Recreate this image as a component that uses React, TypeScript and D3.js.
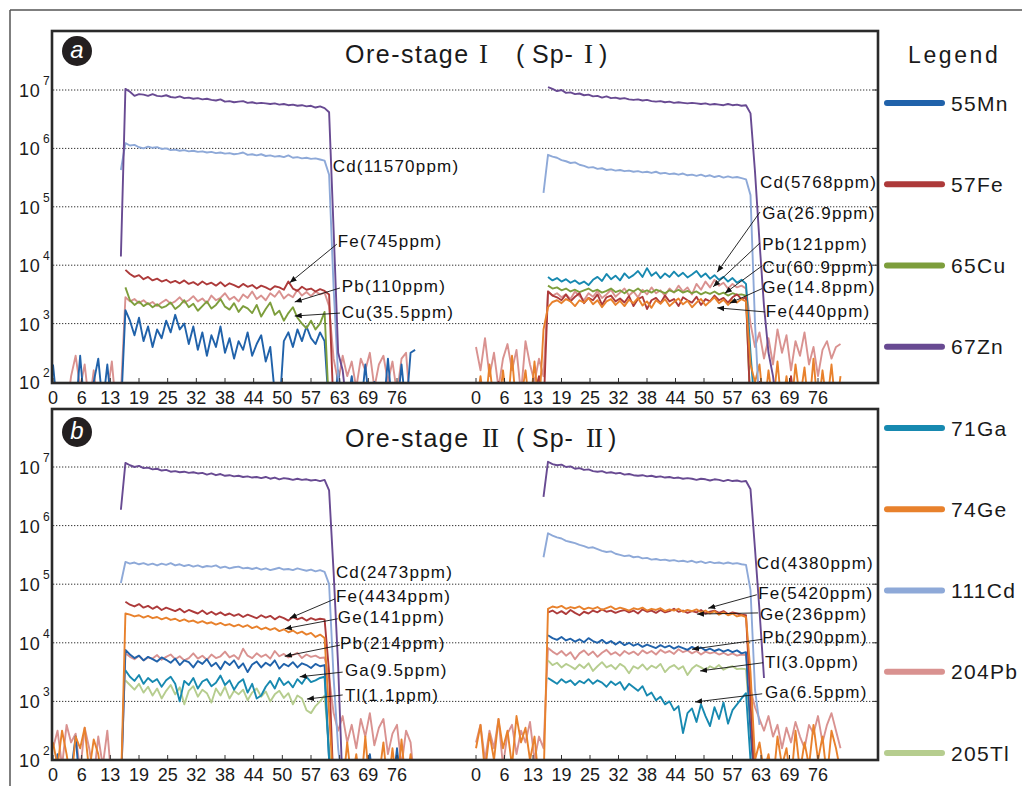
import React from "react";
import * as d3 from "d3";

// legend order and colours
const ELEMENTS = ["55Mn", "57Fe", "65Cu", "67Zn", "71Ga", "74Ge", "111Cd", "204Pb", "205Tl"];
const COLORS: Record<string, string> = {
  Mn: "#2062aa",
  Fe: "#ad3a3a",
  Cu: "#7d9e3c",
  Zn: "#684a92",
  Ga: "#1789b0",
  Ge: "#e8812c",
  Cd: "#8ea9d8",
  Pb: "#d99290",
  Tl: "#b6cd8f",
};
const DRAW_ORDER = ["Pb", "Tl", "Mn", "Ga", "Cu", "Fe", "Ge", "Cd", "Zn"];

const X_TICKS = ["0", "6", "13", "19", "25", "32", "38", "44", "50", "57", "63", "69", "76"];
const X_MAX = 76;
const Y_EXP = [2, 3, 4, 5, 6, 7];

// ---- signals, log10(cps), one value per time step, first value at `start` ----
// panel a, left spot
const AL_MN = [
  2.3, 1.5, 1.5, 1.7, 1.5, 1.5, 2.45, 1.5, 1.5, 2.0,
  2.4, 1.6, 2.3, 1.5, 1.5, 1.5, 3.23, 3.05, 2.8, 3.1,
  2.7, 2.95, 2.6, 2.9, 2.75, 3.05, 2.85, 3.15, 2.9, 3.0,
  2.65, 2.95, 2.55, 2.85, 2.45, 2.8, 2.6, 2.95, 2.5, 2.75,
  2.4, 2.7, 2.55, 2.85, 2.45, 2.65, 2.8, 2.35, 2.6, 1.8,
  1.5, 2.7, 2.85, 2.6, 2.9, 2.7, 2.95, 2.75, 2.65, 2.85,
  2.7, 1.5, 1.5, 2.2, 1.5, 1.6, 2.1, 1.5, 1.5, 2.3,
  1.5, 2.0, 1.5, 1.5, 2.4, 1.5, 1.5, 2.3, 1.5, 2.5, 2.55,
];
const AL_FE = [
  3.92, 3.85, 3.8, 3.83, 3.76, 3.8, 3.74, 3.77, 3.72, 3.75,
  3.7, 3.73, 3.69, 3.74, 3.68, 3.71, 3.66, 3.72, 3.67, 3.7,
  3.65, 3.71, 3.64, 3.69, 3.66, 3.62, 3.68, 3.63, 3.66, 3.6,
  3.65, 3.62, 3.58, 3.64, 3.62, 3.58, 3.72, 3.6, 3.56, 3.63,
  3.58, 3.6, 3.55, 3.59, 3.56, 3.5, 1.5,
];
const AL_CU = [
  3.62, 3.4, 3.32, 3.38, 3.3, 3.35, 3.28, 3.33, 3.27, 3.3,
  3.36, 3.25, 3.31, 3.4, 3.28, 3.34, 3.22, 3.3, 3.38, 3.26,
  3.32, 3.42, 3.29, 3.24, 3.35, 3.2, 3.3, 3.26, 3.18, 3.32,
  3.12, 3.25, 3.36, 3.15, 3.22, 3.05, 3.18, 3.28, 3.1, 3.0,
  2.92, 3.05, 2.9, 3.0, 3.2, 1.5,
];
const AL_ZN = [
  4.15, 7.02, 6.97, 6.9, 6.93, 6.92, 6.9, 6.93, 6.9, 6.89,
  6.91, 6.88, 6.87, 6.89, 6.86, 6.87, 6.85, 6.86, 6.84, 6.85,
  6.83, 6.82, 6.84, 6.8, 6.81, 6.79, 6.8, 6.81, 6.78, 6.79,
  6.77, 6.78, 6.77, 6.76, 6.77, 6.75, 6.76, 6.74, 6.75, 6.73,
  6.74, 6.72, 6.73, 6.7, 6.72, 6.69, 6.62, 4.6, 2.5, 2.2, 1.5,
];
const AL_CD = [
  5.63, 6.09, 6.05, 6.06, 6.02, 6.0, 6.03, 6.01, 6.02, 5.99,
  6.0, 5.97, 5.98, 5.96, 5.97, 5.95, 5.96, 5.94, 5.95, 5.93,
  5.94, 5.92, 5.93, 5.91, 5.92, 5.9, 5.91, 5.93, 5.89, 5.9,
  5.88, 5.9, 5.87, 5.88, 5.86, 5.87, 5.85, 5.88, 5.84, 5.85,
  5.83, 5.84, 5.82, 5.83, 5.81, 5.79, 5.55, 3.6, 2.1, 1.5,
];
const AL_PB = [
  1.5, 1.5, 1.8, 1.5, 2.1, 2.45, 1.9, 2.3, 1.6, 2.2,
  1.5, 1.5, 1.8, 2.35, 1.5, 1.8, 3.45, 3.38, 3.42, 3.35,
  3.4, 3.33, 3.37, 3.3, 3.36, 3.41, 3.34, 3.38, 3.45, 3.36,
  3.4, 3.47, 3.38, 3.43, 3.35, 3.48, 3.4, 3.44, 3.52, 3.41,
  3.46, 3.38, 3.5, 3.44, 3.55, 3.42, 3.48, 3.4, 3.52, 3.46,
  3.56, 3.43, 3.5, 3.45, 3.58, 3.48, 3.54, 3.47, 3.55, 3.5,
  3.53, 3.3, 2.4, 2.0, 2.45, 2.1, 2.35, 1.9, 2.4, 2.2,
  2.5, 1.9, 2.3, 2.45, 2.0, 2.35, 1.8, 2.4, 2.5, 1.5, 1.5,
];

// panel a, right spot
const AR_ZN = [
  7.05, 7.02, 6.98, 7.0, 6.95, 6.96, 6.93, 6.94, 6.91, 6.92,
  6.89, 6.9, 6.87, 6.89, 6.86, 6.87, 6.85, 6.86, 6.84, 6.83,
  6.84, 6.82, 6.83, 6.81, 6.8, 6.81, 6.79, 6.8, 6.78, 6.79,
  6.78, 6.77, 6.78, 6.77, 6.76, 6.77, 6.75, 6.76, 6.75, 6.74,
  6.76, 6.74, 6.75, 6.73, 6.74, 6.6, 5.6, 4.4, 3.3, 2.5, 2.1, 1.5,
];
const AR_CD = [
  5.24, 5.89, 5.86, 5.84, 5.8, 5.78, 5.75, 5.76, 5.72, 5.7,
  5.67, 5.68, 5.65, 5.66, 5.63, 5.64, 5.62, 5.63, 5.61, 5.62,
  5.6, 5.61, 5.59, 5.6, 5.58, 5.6, 5.57, 5.58, 5.56, 5.57,
  5.55, 5.57, 5.54, 5.55, 5.53, 5.55, 5.52, 5.54, 5.51, 5.53,
  5.5, 5.52, 5.5, 5.51, 5.49, 5.47, 5.2, 3.0, 1.5,
];
const AR_GA = [
  3.8, 3.74, 3.78, 3.72, 3.76, 3.7, 3.74, 3.68, 3.72, 3.66,
  3.75, 3.8, 3.73, 3.85, 3.76, 3.82, 3.74, 3.86, 3.78, 3.83,
  3.9, 3.8, 3.95, 3.82, 3.88, 3.78, 3.86, 3.8, 3.89, 3.81,
  3.87, 3.79, 3.84, 3.9, 3.8, 3.86, 3.77, 3.83, 3.75, 3.8,
  3.72, 3.78, 3.7, 3.75, 3.68, 2.5, 1.5,
];
const AR_PB = [
  2.6, 2.2, 2.75, 2.1, 2.5, 1.9, 2.4, 2.65, 2.2, 2.55,
  1.8, 2.7, 2.3, 2.0, 2.4, 2.1, 3.55, 3.48, 3.52, 3.45,
  3.5, 3.42, 3.55, 3.47, 3.4, 3.52, 3.46, 3.56, 3.44, 3.5,
  3.58, 3.46, 3.53, 3.6, 3.48, 3.55, 3.45, 3.58, 3.5, 3.62,
  3.52, 3.57, 3.48, 3.6, 3.53, 3.65, 3.55, 3.62, 3.5, 3.68,
  3.58, 3.72, 3.62, 3.75, 3.65, 3.7, 3.6, 3.68, 3.62, 3.65,
  3.6, 3.0, 2.6, 2.85, 2.4, 2.75, 2.3, 2.9, 2.5, 2.8,
  2.2, 2.7, 2.45, 2.85, 2.3, 2.6, 2.1, 2.55, 2.7, 2.4, 2.6, 2.65,
];
const AR_CU = [
  3.65, 3.6, 3.62, 3.57, 3.6, 3.55, 3.58, 3.54, 3.57, 3.6,
  3.55, 3.58, 3.53, 3.56, 3.6, 3.54, 3.57, 3.52, 3.58, 3.55,
  3.6, 3.54, 3.57, 3.53, 3.58, 3.55, 3.52, 3.57, 3.54, 3.58,
  3.53, 3.56, 3.52, 3.55, 3.5, 3.54, 3.51, 3.55, 3.5, 3.53,
  3.48, 3.52, 3.49, 3.5, 3.48, 1.5,
];
const AR_GE = [
  1.5, 2.1, 1.5, 2.3, 1.6, 1.5, 2.2, 1.5, 2.45, 1.5,
  1.7, 2.2, 1.5, 2.35, 1.5, 2.9, 3.28, 3.37, 3.4, 3.35,
  3.42, 3.38, 3.3, 3.4, 3.36, 3.44, 3.33, 3.4, 3.28, 3.38,
  3.42, 3.32, 3.39, 3.3, 3.41, 3.35, 3.44, 3.31, 3.38, 3.27,
  3.4, 3.34, 3.42, 3.3, 3.37, 3.43, 3.33, 3.39, 3.28, 3.36,
  3.42, 3.31, 3.38, 3.45, 3.35, 3.41, 3.32, 3.4, 3.36, 3.42,
  3.38, 2.3, 2.0, 2.3, 1.5, 2.2, 1.6, 2.35, 1.5, 2.1,
  1.5, 2.3, 1.7, 2.25, 1.5, 2.4, 1.5, 2.2, 1.6, 2.3, 1.5, 2.1,
];
const AR_FE = [
  1.5, 1.5, 1.8, 1.5, 1.5, 2.0, 1.5, 1.5, 1.5, 1.9,
  1.5, 1.5, 1.5, 1.8, 2.1, 1.5, 3.55, 3.48, 3.45, 3.4,
  3.5, 3.38, 3.46, 3.52, 3.35, 3.44, 3.4, 3.5, 3.32, 3.45,
  3.48, 3.38, 3.43, 3.36, 3.47, 3.3, 3.42, 3.46, 3.25, 3.4,
  3.44, 3.35, 3.48, 3.38, 3.42, 3.3, 3.45, 3.4, 3.36, 3.46,
  3.32, 3.42, 3.38, 3.48, 3.4, 3.44, 3.36, 3.45, 3.5, 3.42,
  3.45, 1.5, 1.5, 2.0, 1.5, 1.5, 1.8, 1.5, 1.5, 1.5,
  2.1, 1.5, 1.5, 1.5, 1.5, 1.9, 1.5, 1.5, 1.5, 1.5, 1.5, 1.5,
];

// panel b, left spot
const BL_ZN = [
  6.27, 7.07, 7.03, 7.0, 7.02, 6.98, 6.99, 6.96, 6.97, 6.94,
  6.95, 6.92, 6.93, 6.91, 6.92, 6.9, 6.91, 6.89, 6.9, 6.87,
  6.89, 6.86, 6.88, 6.85, 6.86, 6.84, 6.85, 6.83, 6.84, 6.82,
  6.83, 6.81, 6.83, 6.8, 6.82, 6.79, 6.81, 6.8, 6.78, 6.8,
  6.78, 6.79, 6.77, 6.78, 6.76, 6.78, 6.6, 5.2, 3.6, 1.5,
];
const BL_CD = [
  5.02, 5.38, 5.35, 5.37, 5.34, 5.36, 5.33, 5.35, 5.32, 5.35,
  5.33, 5.36, 5.32, 5.34, 5.31, 5.33, 5.3, 5.32, 5.29, 5.31,
  5.3, 5.32, 5.28, 5.3, 5.27, 5.29, 5.3, 5.27, 5.28, 5.26,
  5.28, 5.25, 5.27, 5.24, 5.26, 5.28, 5.25, 5.26, 5.24, 5.27,
  5.25, 5.23, 5.25, 5.22, 5.24, 5.21, 5.0, 3.4, 2.2, 1.5,
];
const BL_FE = [
  4.7, 4.65, 4.62, 4.66, 4.6, 4.63, 4.58, 4.62, 4.56, 4.6,
  4.57, 4.54, 4.58, 4.52, 4.56, 4.53, 4.5, 4.55, 4.49, 4.53,
  4.48, 4.52, 4.47, 4.5, 4.46, 4.49, 4.44, 4.48, 4.45, 4.42,
  4.47, 4.43, 4.46, 4.4, 4.45, 4.42, 4.38, 4.44, 4.4, 4.43,
  4.38, 4.42, 4.39, 4.41, 4.4, 3.5, 1.5,
];
const BL_GE = [
  2.3, 1.9, 2.5, 2.1, 1.6, 2.4, 2.2, 2.55, 1.8, 2.35,
  2.1, 1.5, 2.0, 1.5, 1.5, 1.5, 4.5, 4.48, 4.45, 4.47,
  4.43, 4.46, 4.42, 4.44, 4.4, 4.43, 4.39, 4.41, 4.37, 4.4,
  4.36, 4.38, 4.34, 4.37, 4.33, 4.35, 4.31, 4.34, 4.3, 4.32,
  4.28, 4.31, 4.27, 4.3, 4.25, 4.28, 4.23, 4.26, 4.22, 4.25,
  4.2, 4.23, 4.18, 4.21, 4.16, 4.19, 4.14, 4.17, 4.1, 4.14,
  4.08, 2.8, 1.5, 2.0, 1.5, 2.3, 1.6, 2.1, 1.5, 2.4,
  1.5, 2.0, 1.7, 2.3, 1.5, 2.2, 1.5, 2.35, 1.5, 2.1, 1.5, 1.5,
];
const BL_PB = [
  2.2, 2.5, 1.9, 2.6, 2.3, 2.45, 1.8, 2.55, 2.2, 1.7,
  2.4, 1.9, 2.5, 1.6, 1.5, 1.5, 3.82, 3.76, 3.72, 3.78,
  3.7, 3.75, 3.73, 3.79, 3.71, 3.76, 3.8, 3.72, 3.77, 3.7,
  3.74, 3.82, 3.73, 3.78, 3.71, 3.8, 3.74, 3.77, 3.85, 3.75,
  3.79, 3.72, 3.9, 3.78, 3.74, 3.82, 3.76, 3.8, 3.73, 3.86,
  3.77, 3.81, 3.75, 3.79, 3.83, 3.74, 3.8, 3.76, 3.78, 3.74,
  3.75, 3.4, 2.8, 2.5, 2.75, 2.3, 2.6, 2.2, 2.7, 2.4,
  2.8, 2.25, 2.55, 2.7, 2.1, 2.45, 2.6, 1.9, 2.5, 2.3, 1.5, 1.5,
];
const BL_MN = [
  1.5, 2.1, 1.5, 1.5, 1.8, 2.4, 1.5, 1.5, 2.0, 1.5,
  1.5, 1.7, 1.5, 1.5, 1.5, 1.5, 3.88, 3.8, 3.74, 3.78,
  3.7, 3.76, 3.72, 3.68, 3.75, 3.71, 3.66, 3.73, 3.62, 3.7,
  3.67, 3.58, 3.69, 3.64, 3.72, 3.6, 3.66, 3.55, 3.68, 3.62,
  3.7, 3.57, 3.65, 3.5, 3.63, 3.68, 3.58, 3.66, 3.61, 3.7,
  3.56, 3.64, 3.6, 3.67, 3.58, 3.65, 3.62, 3.57, 3.64, 3.6,
  3.62, 2.0, 1.5, 1.5, 2.0, 1.5, 1.5, 1.8, 1.5, 1.5,
  2.1, 1.5, 1.5, 1.9, 1.5, 1.5, 2.2, 1.5, 1.5, 2.0, 1.5, 1.5,
];
const BL_GA = [
  3.53, 3.42, 3.35, 3.45, 3.3, 3.4, 3.33, 3.38, 3.25, 3.36,
  3.42, 3.3, 3.0, 3.35, 3.28, 3.4, 3.22, 3.34, 3.38, 3.26,
  3.32, 3.44, 3.28, 3.36, 3.2, 3.32, 3.38, 3.15, 3.3, 3.05,
  3.1, 3.25, 3.35, 3.22, 3.4, 3.28, 3.34, 3.24, 3.38, 3.3,
  3.42, 3.33, 3.36, 3.4, 3.42, 2.0, 1.5,
];
const BL_TL = [
  3.36, 3.28, 3.2, 3.3, 3.15, 3.25, 3.1, 3.22, 3.05, 3.18,
  3.28, 3.12, 3.24, 2.95, 3.18, 3.26, 3.08, 3.2, 3.14, 2.98,
  3.22, 3.1, 3.25, 3.05, 3.18, 3.12, 3.2, 3.02, 3.15, 3.22,
  3.08, 3.17, 3.0, 3.12, 3.18, 3.06, 3.14, 2.95, 3.1, 3.05,
  2.85, 2.8, 2.92, 3.0, 3.1, 2.2, 1.5,
];

// panel b, right spot
const BR_ZN = [
  6.49, 7.09, 7.05, 7.03, 7.04, 7.0, 7.01, 6.97, 6.98, 6.95,
  6.96, 6.93, 6.92, 6.93, 6.9, 6.91, 6.89, 6.9, 6.87, 6.88,
  6.86, 6.85, 6.86, 6.84, 6.85, 6.83, 6.84, 6.82, 6.83, 6.81,
  6.82, 6.8, 6.81, 6.8, 6.78, 6.8, 6.79, 6.77, 6.79, 6.78,
  6.76, 6.78, 6.76, 6.77, 6.75, 6.76, 6.62, 5.6, 4.55, 3.4,
];
const BR_CD = [
  5.46, 5.87, 5.83, 5.8, 5.78, 5.74, 5.72, 5.7, 5.67, 5.65,
  5.62, 5.63, 5.6, 5.57, 5.55, 5.56, 5.52, 5.5, 5.48, 5.49,
  5.46, 5.47, 5.44, 5.45, 5.42, 5.43, 5.41, 5.42, 5.4, 5.41,
  5.39, 5.4, 5.38, 5.4, 5.37, 5.39, 5.36, 5.38, 5.36, 5.37,
  5.35, 5.37, 5.35, 5.36, 5.34, 5.33, 4.9, 3.2, 2.6,
];
const BR_FE = [
  4.52, 4.55, 4.5, 4.54, 4.49, 4.56, 4.51, 4.47, 4.53, 4.5,
  4.55, 4.52, 4.57, 4.53, 4.55, 4.51, 4.54, 4.56, 4.52, 4.55,
  4.5, 4.57, 4.53, 4.55, 4.51, 4.56, 4.52, 4.54, 4.58, 4.53,
  4.55, 4.51, 4.54, 4.52, 4.56, 4.5, 4.53, 4.55, 4.51, 4.54,
  4.49, 4.52, 4.5, 4.48, 4.47, 3.0, 1.5,
];
const BR_GE = [
  2.2, 2.6, 1.8, 2.45, 2.0, 2.7, 2.2, 2.5, 1.9, 2.75,
  2.3, 2.55, 2.0, 2.4, 1.6, 1.6, 4.58, 4.62, 4.6, 4.63,
  4.58, 4.61, 4.59, 4.62, 4.57, 4.6, 4.58, 4.61, 4.56, 4.59,
  4.62, 4.57, 4.6, 4.58, 4.55, 4.59, 4.57, 4.6, 4.55, 4.58,
  4.56, 4.59, 4.54, 4.57, 4.55, 4.58, 4.53, 4.56, 4.54, 4.57,
  4.52, 4.55, 4.5, 4.54, 4.48, 4.52, 4.47, 4.5, 4.45, 4.47,
  4.44, 3.5, 2.0, 2.3, 1.8, 2.1, 1.6, 2.4, 1.9, 2.2,
  1.6, 2.5, 1.8, 2.3, 1.9, 2.6, 2.0, 2.4, 1.7, 2.5, 2.2, 1.8,
];
const BR_MN = [
  4.13, 4.08, 4.05, 4.1, 4.04, 4.07, 4.02, 4.06, 4.01, 4.08,
  4.03, 4.0, 4.05, 3.99, 4.03, 3.97, 4.02, 3.96, 4.0, 3.95,
  3.98, 3.93, 3.97, 3.94, 3.91, 3.96, 3.92, 3.95, 3.9, 3.94,
  3.91, 3.88, 3.93, 3.89, 3.92, 3.87, 3.9, 3.86, 3.89, 3.85,
  3.88, 3.84, 3.87, 3.82, 3.84, 2.5, 1.5,
];
const BR_PB = [
  2.3, 2.6, 2.0, 2.5, 2.2, 2.7, 1.9, 2.45, 2.6, 2.1,
  2.5, 2.3, 2.65, 2.0, 2.4, 2.2, 3.91, 3.85, 3.8, 3.86,
  3.78, 3.84, 3.72, 3.82, 3.87, 3.79, 3.85, 3.76, 3.83, 3.88,
  3.8, 3.84, 3.78, 3.86, 3.81, 3.85, 3.79, 3.87, 3.82, 3.86,
  3.8, 3.88, 3.83, 3.86, 3.81, 3.89, 3.84, 3.87, 3.82, 3.86,
  3.8, 3.85, 3.82, 3.84, 3.8, 3.83, 3.79, 3.82, 3.78, 3.8,
  3.79, 3.2, 2.9, 2.7, 2.5, 2.75, 2.4, 2.6, 2.2, 2.55,
  2.3, 2.65, 2.4, 2.2, 2.6, 2.45, 2.75, 2.3, 2.6, 2.8, 2.5, 2.2,
];
const BR_TL = [
  3.7, 3.62, 3.66, 3.58, 3.64, 3.6, 3.55, 3.63, 3.57, 3.65,
  3.52, 3.6, 3.67, 3.58, 3.62, 3.55, 3.64, 3.59, 3.48, 3.6,
  3.56, 3.63, 3.54, 3.61, 3.57, 3.64, 3.5, 3.58, 3.62, 3.55,
  3.6, 3.45, 3.56, 3.62, 3.58, 3.53, 3.6, 3.56, 3.62, 3.54,
  3.58, 3.6, 3.55, 3.56, 3.55, 2.5, 1.5,
];
const BR_GA = [
  3.4, 3.35, 3.3, 3.38, 3.32, 3.36, 3.28, 3.35, 3.31, 3.38,
  3.3, 3.36, 3.32, 3.25, 3.34, 3.28, 3.33, 3.2, 3.3, 3.24,
  3.18, 3.26, 3.1, 3.15, 3.02, 3.08, 2.95, 3.0, 2.85, 2.92,
  2.46, 2.8, 2.88, 2.65, 2.95, 2.75, 2.58, 2.9, 2.7, 2.98,
  2.62, 2.85, 2.95, 3.05, 3.14, 2.0, 1.5,
];

type Series = { el: string; start: number; vals: number[] };
const SPOTS: Series[][] = [
  [
    { el: "Mn", start: 0, vals: AL_MN },
    { el: "Fe", start: 16, vals: AL_FE },
    { el: "Cu", start: 16, vals: AL_CU },
    { el: "Zn", start: 15, vals: AL_ZN },
    { el: "Cd", start: 15, vals: AL_CD },
    { el: "Pb", start: 0, vals: AL_PB },
  ],
  [
    { el: "Zn", start: 16, vals: AR_ZN },
    { el: "Cd", start: 15, vals: AR_CD },
    { el: "Ga", start: 16, vals: AR_GA },
    { el: "Pb", start: 0, vals: AR_PB },
    { el: "Cu", start: 16, vals: AR_CU },
    { el: "Ge", start: 0, vals: AR_GE },
    { el: "Fe", start: 0, vals: AR_FE },
  ],
  [
    { el: "Zn", start: 15, vals: BL_ZN },
    { el: "Cd", start: 15, vals: BL_CD },
    { el: "Fe", start: 16, vals: BL_FE },
    { el: "Ge", start: 0, vals: BL_GE },
    { el: "Pb", start: 0, vals: BL_PB },
    { el: "Mn", start: 0, vals: BL_MN },
    { el: "Ga", start: 16, vals: BL_GA },
    { el: "Tl", start: 16, vals: BL_TL },
  ],
  [
    { el: "Zn", start: 15, vals: BR_ZN },
    { el: "Cd", start: 15, vals: BR_CD },
    { el: "Fe", start: 16, vals: BR_FE },
    { el: "Ge", start: 0, vals: BR_GE },
    { el: "Mn", start: 16, vals: BR_MN },
    { el: "Pb", start: 0, vals: BR_PB },
    { el: "Tl", start: 16, vals: BR_TL },
    { el: "Ga", start: 16, vals: BR_GA },
  ],
];

// annotations: label position (t) and arrow from (a) to data point (p), in time / log10 units
type Ann = { text: string; tx: number; ty: number; ax?: number; ay?: number; px?: number; py?: number };
const ANN_AL: Ann[] = [
  { text: "Cd(11570ppm)", tx: 61.8, ty: 5.6 },
  { text: "Fe(745ppm)", tx: 62.9, ty: 4.31, ax: 62.7, ay: 4.36, px: 52.3, py: 3.7 },
  { text: "Pb(110ppm)", tx: 63.8, ty: 3.54, ax: 63.4, ay: 3.61, px: 53.4, py: 3.37 },
  { text: "Cu(35.5ppm)", tx: 63.8, ty: 3.1, ax: 63.4, ay: 3.18, px: 53.4, py: 3.13 },
];
const ANN_AR: Ann[] = [
  { text: "Cd(5768ppm)", tx: 63.1, ty: 5.32 },
  { text: "Ga(26.9ppm)", tx: 63.6, ty: 4.79, ax: 63.1, ay: 4.91, px: 53.6, py: 3.88 },
  { text: "Pb(121ppm)", tx: 63.6, ty: 4.26, ax: 63.1, ay: 4.38, px: 52.7, py: 3.63 },
  { text: "Cu(60.9ppm)", tx: 63.6, ty: 3.87, ax: 63.6, ay: 3.99, px: 55.3, py: 3.52 },
  { text: "Ge(14.8ppm)", tx: 63.6, ty: 3.52, ax: 63.6, ay: 3.6, px: 56.4, py: 3.35 },
  { text: "Fe(440ppm)", tx: 64.4, ty: 3.11, ax: 64.2, ay: 3.2, px: 53.6, py: 3.27 },
];
const ANN_BL: Ann[] = [
  { text: "Cd(2473ppm)", tx: 62.5, ty: 5.11 },
  { text: "Fe(4434ppm)", tx: 62.5, ty: 4.7, ax: 62.3, ay: 4.75, px: 52.3, py: 4.42 },
  { text: "Ge(141ppm)", tx: 62.9, ty: 4.34, ax: 62.9, ay: 4.41, px: 51.2, py: 4.24 },
  { text: "Pb(214ppm)", tx: 63.4, ty: 3.89, ax: 63.4, ay: 3.96, px: 51.2, py: 3.77 },
  { text: "Ga(9.5ppm)", tx: 64.5, ty: 3.43, ax: 64.0, ay: 3.5, px: 54.5, py: 3.42 },
  { text: "Tl(1.1ppm)", tx: 64.5, ty: 3.01, ax: 64.0, ay: 3.11, px: 56.1, py: 3.04 },
];
const ANN_BR: Ann[] = [
  { text: "Cd(4380ppm)", tx: 62.4, ty: 5.26 },
  { text: "Fe(5420ppm)", tx: 62.7, ty: 4.75, ax: 62.4, ay: 4.82, px: 51.6, py: 4.59 },
  { text: "Ge(236ppm)", tx: 63.1, ty: 4.39, ax: 62.7, ay: 4.51, px: 49.1, py: 4.49 },
  { text: "Pb(290ppm)", tx: 63.6, ty: 4.0, ax: 63.6, ay: 4.06, px: 48.0, py: 3.89 },
  { text: "Tl(3.0ppm)", tx: 64.2, ty: 3.57, ax: 63.8, ay: 3.66, px: 49.8, py: 3.52 },
  { text: "Ga(6.5ppm)", tx: 64.2, ty: 3.06, ax: 63.6, ay: 3.13, px: 48.7, py: 2.99 },
];
const ANNS = [ANN_AL, ANN_AR, ANN_BL, ANN_BR];

const FONT = "'Liberation Sans', Arial, Helvetica, sans-serif";
const SERIF = "'Liberation Serif', 'DejaVu Serif', serif";

export default function App() {
  const panels = [
    { id: "a", top: 31, bottom: 383, yr: [382, 90], labelY: 51, titleY: 63, roman: "I", romanX: [479, 584], closeX: 599, spots: [0, 1] },
    { id: "b", top: 409, bottom: 760, yr: [760, 467], labelY: 432, titleY: 447, roman: "II", romanX: [482, 586], closeX: 608, spots: [2, 3] },
  ];
  const subX = [
    [53, 397],
    [476, 818],
  ];
  const left = 52;
  const right = 878;

  return (
    <svg width={1022} height={786} style={{ position: "absolute", left: 0, top: 0, background: "#fff" }} fontFamily={FONT}>
      <defs>
        <marker id="arr" viewBox="0 0 10 10" refX="10" refY="5" markerWidth="7" markerHeight="7" markerUnits="userSpaceOnUse" orient="auto">
          <path d="M0,1 L10,5 L0,9 z" fill="#111" />
        </marker>
        {panels.map((p) => (
          <clipPath id={`clip-${p.id}`} key={p.id}>
            <rect x={left} y={p.top} width={right - left} height={p.bottom - p.top} />
          </clipPath>
        ))}
      </defs>

      {/* outer frame */}
      <line x1={10} y1={10} x2={1022} y2={10} stroke="#555" strokeWidth={1.5} />
      <line x1={10} y1={10} x2={10} y2={786} stroke="#555" strokeWidth={1.5} />

      {panels.map((p) => {
        const y = d3.scaleLog().domain([1e2, 1e7]).range(p.yr);
        return (
          <g key={p.id}>
            {/* grid */}
            {Y_EXP.slice(1).map((e) => (
              <line key={e} x1={left + 1} x2={right - 1} y1={y(10 ** e)} y2={y(10 ** e)} stroke="#333" strokeWidth={1} strokeDasharray="1.3 1.7" />
            ))}
            {Y_EXP.slice(1).map((e) => (
              <line key={"rt" + e} x1={right - 5} x2={right} y1={y(10 ** e)} y2={y(10 ** e)} stroke="#333" strokeWidth={1} />
            ))}
            {/* y labels */}
            {Y_EXP.map((e) => (
              <text key={"yl" + e} x={19} y={y(10 ** e) + 7} fontSize={18} fill="#1a1a1a" style={{ letterSpacing: 0.8 }}>
                10
                <tspan x={43} dy={-12} fontSize={12}>
                  {e}
                </tspan>
              </text>
            ))}

            {/* data */}
            {p.spots.map((si, k) => {
              const x = d3.scaleLinear().domain([0, X_MAX]).range(subX[k]);
              const series = [...SPOTS[si]].sort((a, b) => DRAW_ORDER.indexOf(a.el) - DRAW_ORDER.indexOf(b.el));
              return (
                <g key={si} clipPath={`url(#clip-${p.id})`}>
                  {series.map((s) => {
                    const l = d3
                      .line<number>()
                      .x((_, i) => x(s.start + i))
                      .y((v) => y(10 ** v));
                    return (
                      <path key={s.el} d={l(s.vals) || ""} fill="none" stroke={COLORS[s.el]} strokeWidth={1.9} strokeLinejoin="round" />
                    );
                  })}
                </g>
              );
            })}

            {/* x axes */}
            {p.spots.map((si, k) => {
              const x = d3.scaleLinear().domain([0, X_MAX]).range(subX[k]);
              return (
                <g key={"ax" + si}>
                  {X_TICKS.map((t, i) => {
                    const xv = x((i * X_MAX) / (X_TICKS.length - 1));
                    return (
                      <g key={t}>
                        <line x1={xv} x2={xv} y1={p.bottom - 1} y2={p.bottom - 5} stroke="#333" strokeWidth={1} />
                        <text x={xv} y={p.bottom + 21} fontSize={18} textAnchor="middle" fill="#1a1a1a">
                          {t}
                        </text>
                      </g>
                    );
                  })}
                </g>
              );
            })}

            {/* frame */}
            <rect x={left} y={p.top} width={right - left} height={p.bottom - p.top} fill="none" stroke="#2a2a2a" strokeWidth={2.6} />

            {/* annotations */}
            {p.spots.map((si, k) => {
              const x = d3.scaleLinear().domain([0, X_MAX]).range(subX[k]);
              return (
                <g key={"an" + si}>
                  {ANNS[si].map((a) => (
                    <g key={a.text}>
                      {a.ax !== undefined && (
                        <line
                          x1={x(a.ax)}
                          y1={y(10 ** (a.ay as number))}
                          x2={x(a.px as number)}
                          y2={y(10 ** (a.py as number))}
                          stroke="#111"
                          strokeWidth={0.9}
                          markerEnd="url(#arr)"
                        />
                      )}
                      <text x={x(a.tx)} y={y(10 ** a.ty)} fontSize={17} fill="#111" style={{ letterSpacing: 1.2 }}>
                        {a.text}
                      </text>
                    </g>
                  ))}
                </g>
              );
            })}

            {/* panel badge */}
            <circle cx={77} cy={p.labelY} r={15} fill="#231f20" />
            <text x={77} y={p.labelY + 7} fontSize={24} fontStyle="italic" fill="#fff" textAnchor="middle">
              {p.id}
            </text>

            {/* title */}
            <text y={p.titleY} fontSize={25} fill="#1a1a1a">
              <tspan x={345} style={{ letterSpacing: 1.5 }}>Ore-stage</tspan>
              <tspan x={p.romanX[0]} fontFamily={SERIF} fontSize={27} style={{ letterSpacing: -1 }}>{p.roman}</tspan>
              <tspan x={516}>(</tspan>
              <tspan x={532} style={{ letterSpacing: 1 }}>Sp-</tspan>
              <tspan x={p.romanX[1]} fontFamily={SERIF} fontSize={27} style={{ letterSpacing: -1 }}>{p.roman}</tspan>
              <tspan x={p.closeX}>)</tspan>
            </text>
          </g>
        );
      })}

      {/* legend */}
      <text x={908} y={63} fontSize={23} fill="#1a1a1a" style={{ letterSpacing: 2.6 }}>
        Legend
      </text>
      {ELEMENTS.map((e, i) => {
        const key = e.replace(/^\d+/, "");
        const ly = 103 + i * 81.25;
        return (
          <g key={e}>
            <line x1={887} x2={942} y1={ly} y2={ly} stroke={COLORS[key]} strokeWidth={6} strokeLinecap="round" />
            <text x={951} y={ly + 7.5} fontSize={21} fill="#1a1a1a" style={{ letterSpacing: 1.3 }}>
              {e}
            </text>
          </g>
        );
      })}
    </svg>
  );
}
